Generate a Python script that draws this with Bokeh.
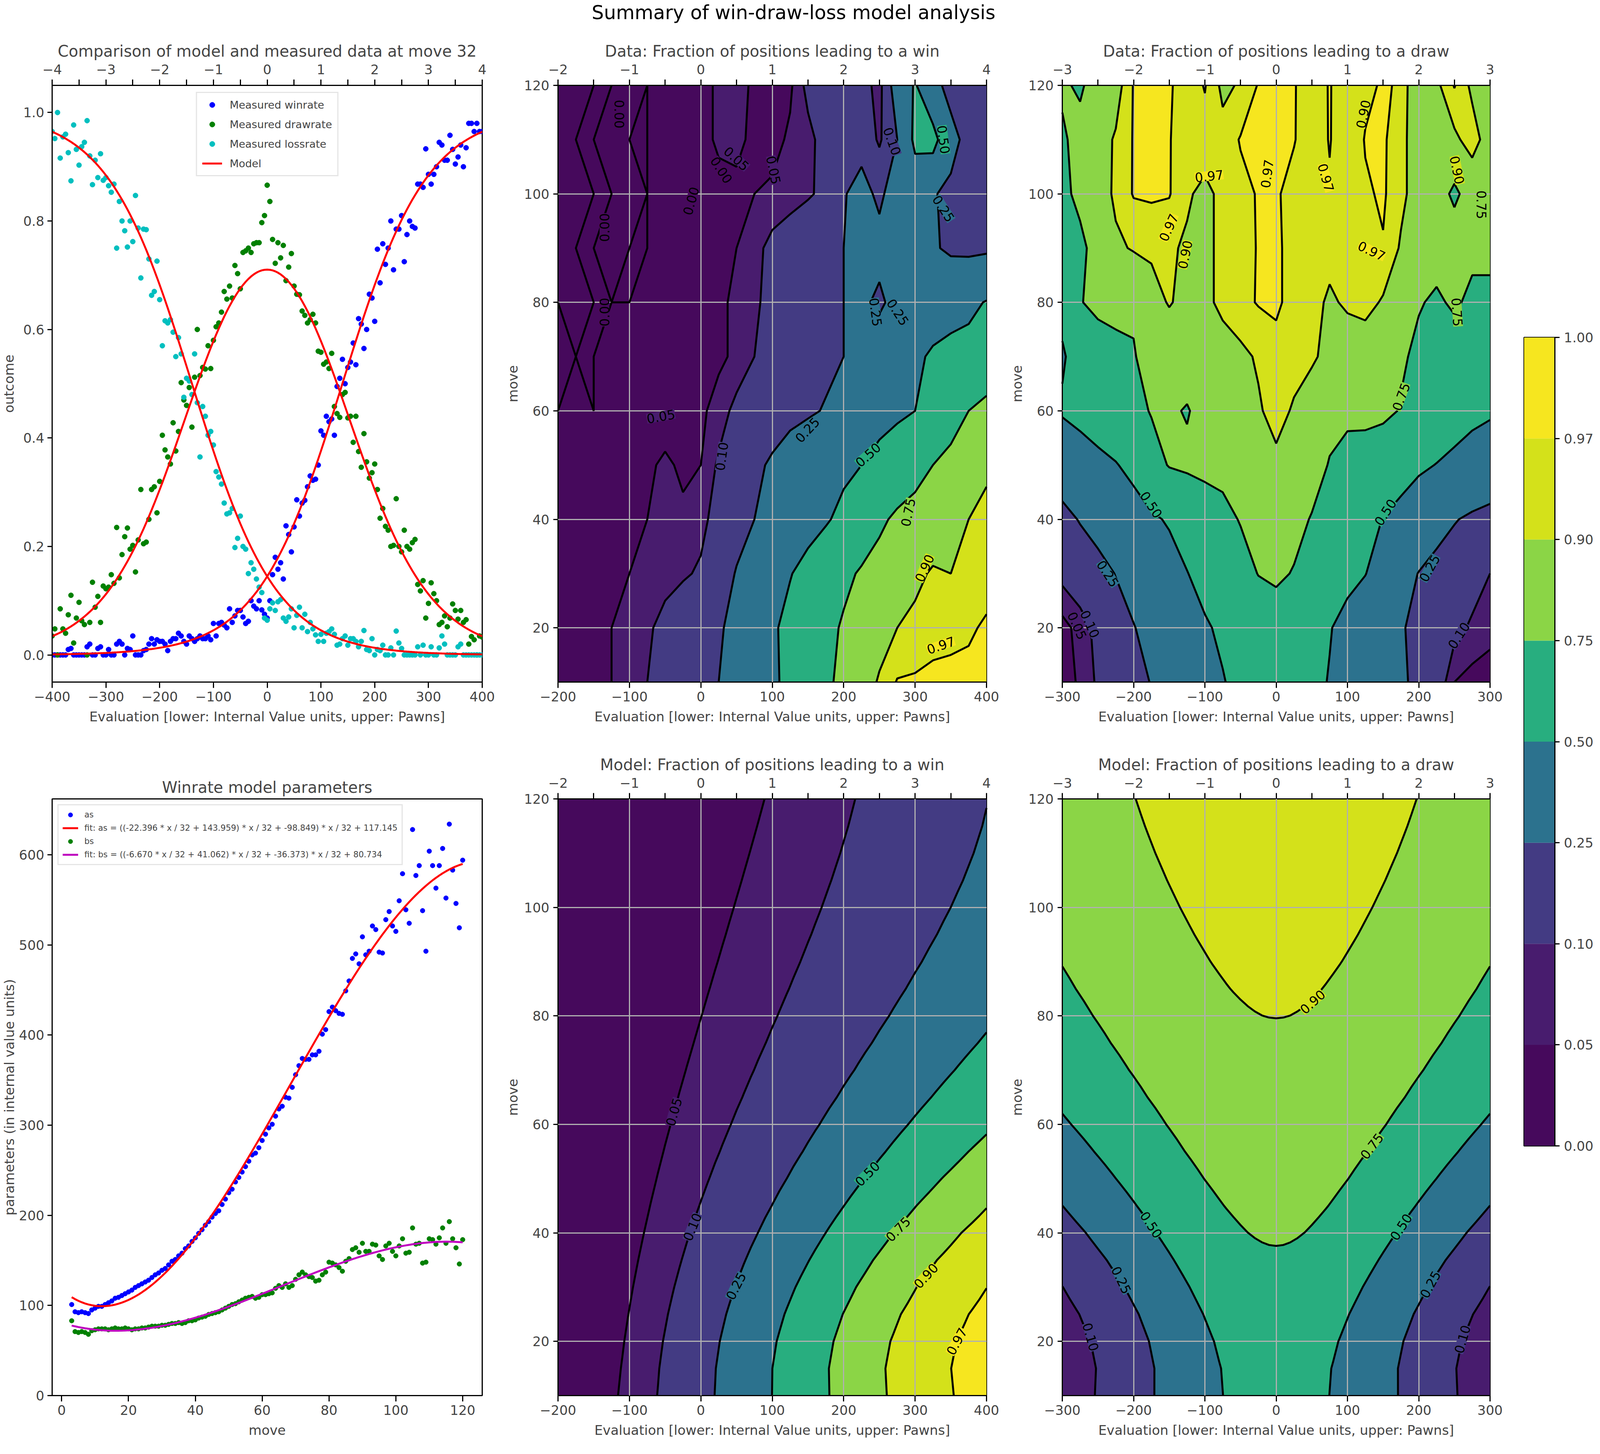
import math
import numpy as np
from bokeh.plotting import figure
from bokeh.layouts import row, column
from bokeh.models import (Range1d, LinearAxis, FixedTicker, Legend, LegendItem,
                          ColumnDataSource, PrintfTickFormatter)
from bokeh.palettes import Viridis256
from bokeh.core.properties import value, field
from bokeh.embed import file_html
from bokeh.resources import INLINE

FONT = "DejaVu Sans"
KX = 0.775   # horizontal css px per reference pixel (the browser view is narrower than the reference)
KF = 0.82    # font scale


def hx(v):
    return int(round(v * KX))


def fs(v):
    return "%dpx" % int(round(v * KF))


# ---------------- data ----------------
# measured outcome fractions at move 32, evaluation -400..400 step 5
EVAL_32 = list(range(-400, 401, 5))
MODEL_MOVE = 32
WIN_32 = [
    0, 0, 0, 0, 0, 0, 0.01, 0.012, 0, 0,
    0, 0, 0, 0.015, 0.02, 0, 0, 0.012, 0.015, 0,
    0, 0.01, 0, 0, 0.02, 0.025, 0.02, 0, 0.012, 0.01,
    0.035, 0, 0, 0, 0.008, 0.01, 0.02, 0.03, 0.02, 0.028,
    0.025, 0.025, 0.02, 0.008, 0.025, 0.03, 0.03, 0.04, 0.035, 0.025,
    0.02, 0.035, 0.03, 0.025, 0.03, 0.035, 0.03, 0.03, 0.035, 0.028,
    0.058, 0.035, 0.058, 0.06, 0.055, 0.05, 0.085, 0.06, 0.072, 0.082,
    0.082, 0.07, 0.058, 0.062, 0.1, 0.09, 0.085, 0.1, 0.083, 0.075,
    0.068, 0.1, 0.148, 0.18, 0.158, 0.17, 0.14, 0.238, 0.222, 0.19,
    0.236, 0.286, 0.256, 0.28, 0.285, 0.31, 0.33, 0.322, 0.324, 0.35,
    0.413, 0.405, 0.44, 0.43, 0.435, 0.405, 0.495, 0.51, 0.545, 0.5,
    0.53, 0.54, 0.575, 0.535, 0.62, 0.61, 0.565, 0.6, 0.665, 0.658,
    0.615, 0.748, 0.686, 0.758, 0.72, 0.75, 0.8, 0.71, 0.785, 0.785,
    0.81, 0.725, 0.775, 0.8, 0.79, 0.787, 0.868, 0.868, 0.862, 0.933,
    0.886, 0.868, 0.886, 0.9, 0.945, 0.94, 0.912, 0.912, 0.958, 0.932,
    0.905, 0.918, 0.94, 0.9, 0.935, 0.98, 0.98, 0.965, 0.98, 0.965,
    0.965,
]
DRAW_32 = [
    0.035, 0.048, 0.0, 0.085, 0.048, 0.04, 0.074, 0.11, 0.022, 0.068,
    0.097, 0.063, 0.056, 0.0, 0.06, 0.134, 0.088, 0.108, 0.06, 0.127,
    0.122, 0.125, 0.148, 0.132, 0.235, 0.142, 0.185, 0.218, 0.234, 0.195,
    0.202, 0.153, 0.212, 0.305, 0.205, 0.208, 0.25, 0.305, 0.31, 0.262,
    0.32, 0.405, 0.378, 0.365, 0.352, 0.428, 0.376, 0.412, 0.502, 0.47,
    0.46, 0.493, 0.42, 0.512, 0.6, 0.515, 0.53, 0.527, 0.57, 0.528,
    0.58, 0.605, 0.612, 0.632, 0.67, 0.656, 0.68, 0.658, 0.718, 0.703,
    0.675, 0.742, 0.745, 0.75, 0.742, 0.758, 0.76, 0.76, 0.797, 0.81,
    0.866, 0.836, 0.766, 0.722, 0.76, 0.732, 0.755, 0.69, 0.715, 0.74,
    0.68, 0.665, 0.664, 0.634, 0.626, 0.612, 0.618, 0.628, 0.612, 0.56,
    0.558, 0.536, 0.54, 0.528, 0.556, 0.458, 0.445, 0.438, 0.48, 0.484,
    0.437, 0.44, 0.392, 0.44, 0.375, 0.346, 0.408, 0.356, 0.326, 0.336,
    0.352, 0.305, 0.252, 0.27, 0.237, 0.23, 0.2, 0.202, 0.288, 0.2,
    0.19, 0.23, 0.2, 0.195, 0.207, 0.213, 0.13, 0.118, 0.137, 0.068,
    0.095, 0.133, 0.113, 0.1, 0.056, 0.06, 0.072, 0.052, 0.068, 0.094,
    0.082, 0.066, 0.082, 0.06, 0.065, 0.02, 0.034, 0.028, 0.0, 0.035,
    0.033,
]
LOSS_32 = [
    0.965, 0.952, 1.0, 0.916, 0.955, 0.96, 0.926, 0.874, 0.977, 0.932,
    0.903, 0.937, 0.945, 0.985, 0.92, 0.867, 0.912, 0.88, 0.924, 0.875,
    0.88, 0.865, 0.853, 0.868, 0.75, 0.836, 0.8, 0.782, 0.752, 0.8,
    0.762, 0.847, 0.787, 0.695, 0.785, 0.784, 0.73, 0.663, 0.67, 0.726,
    0.655, 0.57, 0.616, 0.612, 0.618, 0.595, 0.55, 0.585, 0.555, 0.475,
    0.51, 0.505, 0.48, 0.555, 0.465, 0.365, 0.458, 0.44, 0.405, 0.412,
    0.387, 0.338, 0.328, 0.315, 0.28, 0.26, 0.262, 0.27, 0.198, 0.215,
    0.256, 0.2, 0.195, 0.15, 0.17, 0.158, 0.14, 0.125, 0.115, 0.068,
    0.064, 0.085, 0.096, 0.082, 0.098, 0.102, 0.068, 0.062, 0.07, 0.085,
    0.05, 0.073, 0.088, 0.05, 0.075, 0.043, 0.06, 0.048, 0.037, 0.025,
    0.038, 0.025, 0.04, 0.043, 0.048, 0.038, 0.018, 0.02, 0.03, 0.035,
    0.018, 0.03, 0.03, 0.025, 0.015, 0.025, 0.045, 0.01, 0.008, 0.03,
    0.0, 0.01, 0.008, 0.018, 0.0, 0.0, 0.013, 0.0, 0.044, 0.022,
    0.012, 0.0, 0.0, 0.0, 0.0, 0.0, 0.015, 0.0, 0.018, 0.0,
    0.0, 0.015, 0.0, 0.0, 0.013, 0.035, 0.02, 0.0, 0.0, 0.0,
    0.0, 0.015, 0.02, 0.0, 0.0, 0.0, 0.0, 0.0, 0.0, 0.0,
    0.0,
]

# fitted model parameters per move
MOVES = list(range(3, 121))
AS_MEASURED = [
    101, 93, 92, 93, 92, 91, 95, 97, 99, 99, 101, 103, 105, 108, 109, 111, 113, 115,
    117, 120, 122, 124, 126, 128, 131, 134, 136, 139, 141, 145, 149, 151, 155, 158,
    163, 166, 171, 175, 180, 184, 189, 193, 198, 202, 205, 212, 218, 225, 229, 237,
    242, 248, 254, 260, 267, 269, 275, 283, 290, 297, 301, 310, 318, 321, 331, 330,
    342, 356, 366, 374, 373, 373, 378, 378, 382, 401, 406, 426, 431, 427, 424, 423,
    449, 460, 485, 490, 479, 509, 489, 493, 521, 517, 492, 491, 528, 537, 521, 515,
    549, 579, 539, 524, 628, 577, 588, 538, 493, 604, 588, 563, 588, 607, 552, 634,
    583, 546, 519, 594,
]
BS_MEASURED = [
    83, 71, 70, 71, 70, 68, 72, 73, 74, 74, 74, 73, 74, 75, 74, 74, 75, 74,
    73, 74, 74, 75, 75, 76, 77, 77, 77, 78, 78, 79, 80, 80, 81, 80,
    81, 83, 83, 84, 86, 87, 88, 90, 91, 92, 93, 95, 97, 99, 101, 102,
    104, 106, 108, 109, 110, 108, 109, 112, 112, 113, 114, 119, 122, 120, 124, 120,
    122, 129, 134, 137, 134, 132, 131, 127, 128, 134, 137, 148, 147, 145, 142, 138,
    149, 152, 162, 164, 159, 169, 160, 160, 168, 167, 155, 151, 166, 169, 160, 155,
    166, 174, 158, 159, 186, 168, 169, 147, 148, 174, 173, 168, 175, 186, 169, 193,
    174, 164, 146, 173,
]
AS_COEFFS = [-22.396, 143.959, -98.849, 117.145]
BS_COEFFS = [-6.670, 41.062, -36.373, 80.734]

LEVELS = [0.0, 0.05, 0.10, 0.25, 0.50, 0.75, 0.90, 0.97, 1.00]

# measured fractions on an evaluation x move grid (rows: moves)
GRID_MOVES = list(range(10, 121, 10))
WIN_EVAL = list(range(-200, 401, 25))
WIN_DATA = [
    [0.01, 0.02, 0.03, 0.05, 0.07, 0.10, 0.14, 0.18, 0.21, 0.25, 0.32, 0.39, 0.46, 0.56, 0.64, 0.72, 0.79, 0.85, 0.91, 0.975, 0.98, 0.99, 0.99, 0.99, 0.99],
    [0.01, 0.02, 0.03, 0.05, 0.07, 0.09, 0.12, 0.16, 0.20, 0.23, 0.30, 0.38, 0.47, 0.56, 0.63, 0.70, 0.77, 0.82, 0.86, 0.90, 0.92, 0.94, 0.95, 0.96, 0.98],
    [0.01, 0.02, 0.03, 0.04, 0.05, 0.07, 0.08, 0.09, 0.11, 0.17, 0.26, 0.33, 0.41, 0.49, 0.57, 0.64, 0.71, 0.77, 0.81, 0.85, 0.88, 0.91, 0.90, 0.92, 0.94],
    [0.01, 0.01, 0.02, 0.03, 0.04, 0.05, 0.06, 0.06, 0.08, 0.13, 0.19, 0.25, 0.30, 0.36, 0.42, 0.48, 0.55, 0.63, 0.72, 0.78, 0.81, 0.84, 0.87, 0.90, 0.93],
    [0.01, 0.01, 0.02, 0.02, 0.03, 0.04, 0.06, 0.04, 0.05, 0.11, 0.17, 0.22, 0.27, 0.32, 0.37, 0.42, 0.46, 0.50, 0.57, 0.63, 0.69, 0.75, 0.80, 0.84, 0.88],
    [0.00, 0.01, 0.00, 0.01, 0.01, 0.02, 0.02, 0.03, 0.04, 0.07, 0.12, 0.15, 0.18, 0.21, 0.23, 0.26, 0.32, 0.37, 0.42, 0.46, 0.50, 0.58, 0.67, 0.75, 0.80],
    [0.00, 0.00, 0.00, 0.01, 0.01, 0.01, 0.02, 0.02, 0.03, 0.04, 0.06, 0.10, 0.14, 0.18, 0.20, 0.22, 0.25, 0.31, 0.36, 0.41, 0.46, 0.53, 0.56, 0.56, 0.62],
    [0.00, 0.01, 0.00, 0.00, 0.00, 0.01, 0.01, 0.02, 0.03, 0.04, 0.06, 0.09, 0.12, 0.15, 0.18, 0.22, 0.25, 0.28, 0.22, 0.31, 0.36, 0.38, 0.42, 0.46, 0.51],
    [0.01, 0.00, 0.00, 0.01, 0.00, 0.00, 0.01, 0.02, 0.03, 0.04, 0.05, 0.08, 0.12, 0.15, 0.18, 0.21, 0.25, 0.28, 0.30, 0.28, 0.30, 0.27, 0.22, 0.21, 0.22],
    [0.00, 0.01, 0.00, 0.00, 0.01, 0.00, 0.01, 0.01, 0.02, 0.03, 0.04, 0.05, 0.06, 0.07, 0.09, 0.12, 0.24, 0.30, 0.22, 0.33, 0.36, 0.26, 0.22, 0.20, 0.23],
    [0.01, 0.00, 0.00, 0.01, 0.00, 0.00, 0.01, 0.02, 0.03, 0.06, 0.06, 0.04, 0.03, 0.06, 0.08, 0.13, 0.18, 0.20, 0.08, 0.25, 0.55, 0.58, 0.30, 0.20, 0.22],
    [0.00, 0.01, 0.00, 0.00, 0.01, 0.00, 0.01, 0.01, 0.03, 0.06, 0.07, 0.04, 0.03, 0.04, 0.12, 0.18, 0.20, 0.15, 0.06, 0.35, 0.52, 0.30, 0.20, 0.18, 0.20],
]
DRAW_EVAL = list(range(-300, 301, 25))
DRAW_DATA = [
    [0.02, 0.06, 0.11, 0.16, 0.21, 0.255, 0.31, 0.38, 0.44, 0.49, 0.55, 0.60, 0.64, 0.60, 0.55, 0.49, 0.42, 0.36, 0.31, 0.27, 0.22, 0.15, 0.05, 0.03, 0.02],
    [0.03, 0.07, 0.12, 0.18, 0.245, 0.29, 0.35, 0.42, 0.48, 0.53, 0.58, 0.63, 0.66, 0.64, 0.59, 0.51, 0.44, 0.37, 0.31, 0.26, 0.22, 0.17, 0.12, 0.09, 0.07],
    [0.12, 0.15, 0.19, 0.255, 0.30, 0.36, 0.42, 0.495, 0.56, 0.62, 0.68, 0.755, 0.78, 0.74, 0.68, 0.61, 0.55, 0.505, 0.41, 0.32, 0.245, 0.20, 0.16, 0.13, 0.10],
    [0.20, 0.26, 0.32, 0.37, 0.42, 0.47, 0.52, 0.58, 0.64, 0.70, 0.76, 0.80, 0.84, 0.80, 0.74, 0.68, 0.62, 0.56, 0.495, 0.44, 0.38, 0.31, 0.26, 0.22, 0.19],
    [0.35, 0.40, 0.45, 0.49, 0.55, 0.68, 0.76, 0.78, 0.80, 0.80, 0.82, 0.86, 0.88, 0.86, 0.82, 0.74, 0.70, 0.66, 0.62, 0.58, 0.53, 0.495, 0.46, 0.43, 0.40],
    [0.52, 0.56, 0.60, 0.64, 0.70, 0.76, 0.77, 0.74, 0.80, 0.84, 0.87, 0.89, 0.93, 0.89, 0.86, 0.80, 0.78, 0.80, 0.79, 0.74, 0.68, 0.63, 0.58, 0.54, 0.52],
    [0.48, 0.58, 0.64, 0.70, 0.745, 0.78, 0.80, 0.82, 0.84, 0.86, 0.88, 0.91, 0.95, 0.93, 0.91, 0.88, 0.86, 0.84, 0.81, 0.77, 0.72, 0.70, 0.68, 0.70, 0.72],
    [0.55, 0.74, 0.80, 0.80, 0.76, 0.85, 0.91, 0.86, 0.88, 0.92, 0.95, 0.975, 0.98, 0.95, 0.92, 0.89, 0.91, 0.93, 0.89, 0.85, 0.76, 0.73, 0.77, 0.72, 0.70],
    [0.70, 0.72, 0.80, 0.88, 0.91, 0.92, 0.91, 0.89, 0.88, 0.92, 0.94, 0.975, 0.98, 0.95, 0.93, 0.92, 0.91, 0.93, 0.965, 0.89, 0.82, 0.80, 0.84, 0.78, 0.80],
    [0.72, 0.78, 0.84, 0.92, 0.975, 0.98, 0.975, 0.91, 0.88, 0.92, 0.95, 0.975, 0.98, 0.94, 0.93, 0.96, 0.91, 0.96, 0.98, 0.92, 0.86, 0.82, 0.72, 0.82, 0.80],
    [0.72, 0.82, 0.86, 0.91, 0.975, 0.98, 0.975, 0.92, 0.94, 0.93, 0.975, 0.98, 0.975, 0.975, 0.92, 0.975, 0.91, 0.975, 0.98, 0.93, 0.84, 0.86, 0.88, 0.94, 0.85],
    [0.78, 0.72, 0.85, 0.86, 0.975, 0.975, 0.98, 0.93, 0.975, 0.88, 0.91, 0.975, 0.98, 0.975, 0.93, 0.975, 0.92, 0.95, 0.98, 0.96, 0.80, 0.88, 0.975, 0.88, 0.88],
]

# grid on which the fitted model is drawn
MODEL_MOVES = list(range(10, 121, 5))
MODEL_WIN_EVAL = list(range(-200, 401, 10))
MODEL_DRAW_EVAL = list(range(-300, 301, 10))

# inline contour labels: (evaluation, move, text, angle in degrees as seen in the reference)
WIN_DATA_LABELS = [
    (-114, 114.7, "0.00", -90), (-135, 93.8, "0.00", 90), (-135, 78.2, "0.00", 90),
    (-14, 98.7, "0.00", 70), (29, 104.4, "0.00", -50), (50, 106.5, "0.05", -35),
    (102, 104.4, "0.05", -75), (268, 109.7, "0.10", -65), (340, 110, "0.50", -80),
    (340, 97.3, "0.25", -50), (245, 78.2, "0.25", -80), (276, 78.2, "0.25", -50),
    (-56, 59, "0.05", 8), (29, 51.6, "0.10", 80), (149, 56.5, "0.25", 40),
    (234, 51.9, "0.50", 35), (290, 41.3, "0.75", 75), (313, 31, "0.90", 60),
    (336, 16.8, "0.97", 15),
]
DRAW_DATA_LABELS = [
    (-94, 103.3, "0.97", 5), (-13, 103.7, "0.97", 80), (70, 103, "0.97", -70),
    (122, 114.7, "0.90", 75), (254, 104.4, "0.90", -75), (288, 98, "0.75", -90),
    (-151, 93.8, "0.97", 60), (-128, 88.8, "0.90", 75), (134, 89.5, "0.97", -20),
    (254, 78.2, "0.75", -85), (175, 62.6, "0.75", 65), (-175, 42.7, "0.50", -50),
    (153, 41.3, "0.50", 50), (-236, 30, "0.25", -50), (215, 31, "0.25", 55),
    (-261, 20.7, "0.10", -60), (-279, 20.4, "0.05", -60), (256, 18.6, "0.10", 50),
]
WIN_MODEL_LABELS = [
    (-38, 62.3, "0.05", 70), (-12, 41.1, "0.10", 62), (49, 30.2, "0.25", 57),
    (233, 50.9, "0.50", 38), (276, 40.7, "0.75", 38), (315, 32.1, "0.90", 40),
    (358, 20, "0.97", 55),
]
DRAW_MODEL_LABELS = [
    (51, 82.6, "0.90", 35), (134, 56, "0.75", 45), (-175, 41.5, "0.50", -50),
    (175, 41.1, "0.50", 50), (-217, 31.3, "0.25", -58), (216, 30.5, "0.25", 55),
    (-260, 20.8, "0.10", -70), (261, 20.4, "0.10", 70),
]


# ---------------- model ----------------
def poly(c, move):
    m = np.asarray(move, dtype=float) / 32
    return ((c[0] * m + c[1]) * m + c[2]) * m + c[3]


def model_win(x, move):
    a = poly(AS_COEFFS, move)
    b = poly(BS_COEFFS, move)
    return 1.0 / (1.0 + np.exp((a - np.asarray(x, dtype=float)) / b))


# colours of the filled bands (viridis at band mid points)
BAND_COLORS = [Viridis256[int(0.5 * (lo + hi) * 256)] for lo, hi in zip(LEVELS[:-1], LEVELS[1:])]
FILL_LEVELS = [LEVELS[0] - 0.001] + LEVELS[1:]   # keep exact zeros inside the first band

# ---------------- layout sizes (css px) ----------------
HEAD_H = 80
FH = 1527
TOP_T, TOP_B = 138, 136
BOT_T, BOT_B = 163, 128
FW_A, FW_B, FW_C = 1101, 1097, 1095
L_A, R_A = 127, 55
L_B, R_B = 133, 55
L_C, R_C = 133, 47
L_CB, FW_CB, R_CB = 40, 79, 100
TOTAL_W = L_A + FW_A + R_A + L_B + FW_B + R_B + L_C + FW_C + R_C + L_CB + FW_CB + R_CB


def minus(v):
    return str(v).replace("-", "\u2212")


def style_axis(ax, ticks, minor=None, overrides=None, tick=15, standoff=10, label_standoff=10):
    ax.ticker = FixedTicker(ticks=ticks, minor_ticks=minor or [])
    ax.axis_line_color = "black"
    ax.axis_line_width = 3
    ax.major_tick_in = 0
    ax.major_tick_out = tick
    ax.major_tick_line_width = 3
    ax.minor_tick_in = 0
    ax.minor_tick_out = tick
    ax.minor_tick_line_width = 3
    ax.major_label_text_font = FONT
    ax.major_label_text_font_size = fs(42)
    ax.major_label_standoff = standoff
    ax.axis_label_text_font = FONT
    ax.axis_label_text_font_size = fs(42)
    ax.axis_label_text_font_style = "normal"
    ax.axis_label_standoff = label_standoff
    if overrides:
        ax.major_label_overrides = overrides


def panel(title, xr, yr, fw, left, right, top, bottom, title_standoff):
    p = figure(frame_width=fw, frame_height=FH, x_range=xr, y_range=yr,
               min_border_left=left, min_border_right=right,
               min_border_top=top, min_border_bottom=bottom,
               output_backend="svg", toolbar_location=None, title=title)
    p.title.text_font = FONT
    p.title.text_font_size = "40px"
    p.title.text_font_style = "normal"
    p.title.align = "center"
    p.title.standoff = title_standoff
    p.outline_line_color = "black"
    p.outline_line_width = 3
    p.grid.visible = False
    return p


def add_pawn_axis(p, lo, hi):
    p.extra_x_ranges = {"pawns": Range1d(lo, hi)}
    ax = LinearAxis(x_range_name="pawns")
    p.add_layout(ax, "above")
    style_axis(ax, list(range(lo, hi + 1)), [v + 0.5 for v in range(lo, hi)], standoff=14)
    return ax


def screen_angle(a):
    # angle read in the reference, adjusted for the narrower horizontal scale
    r = math.radians(a)
    return math.degrees(math.atan2(math.sin(r), math.cos(r) * KX))


EVAL_LABEL = "Evaluation [lower: Internal Value units, upper: Pawns]"

# ---------------- panel 1: comparison at move 32 ----------------
p1 = panel("Comparison of model and measured data at move 32", Range1d(-400, 400), Range1d(-0.05, 1.05),
           FW_A, L_A, R_A, TOP_T, TOP_B, 16)
add_pawn_axis(p1, -4, 4)
ticks = list(range(-400, 401, 100))
style_axis(p1.below[0], ticks, overrides={t: minus(t) for t in ticks}, standoff=9, label_standoff=16)
p1.below[0].axis_label = EVAL_LABEL
style_axis(p1.left[0], [0, 0.2, 0.4, 0.6, 0.8, 1.0], tick=hx(15), standoff=8, label_standoff=13)
p1.left[0].formatter = PrintfTickFormatter(format="%.1f")
p1.left[0].axis_label = "outcome"

rw = p1.scatter(EVAL_32, WIN_32, size=13, color="#0000ff")
rd = p1.scatter(EVAL_32, DRAW_32, size=13, color="#008000")
rl = p1.scatter(EVAL_32, LOSS_32, size=13, color="#00bfbf")
mw = model_win(EVAL_32, MODEL_MOVE)
ml = model_win([-e for e in EVAL_32], MODEL_MOVE)
rm = p1.line(EVAL_32, mw, line_color="#ff0000", line_width=5)
p1.line(EVAL_32, 1 - mw - ml, line_color="#ff0000", line_width=5)
p1.line(EVAL_32, ml, line_color="#ff0000", line_width=5)
leg1 = Legend(items=[LegendItem(label="Measured winrate", renderers=[rw]),
                     LegendItem(label="Measured drawrate", renderers=[rd]),
                     LegendItem(label="Measured lossrate", renderers=[rl]),
                     LegendItem(label="Model", renderers=[rm])],
              location="top_center", label_text_font=FONT, label_text_font_size=fs(33),
              glyph_width=hx(66), glyph_height=34, label_standoff=hx(26), spacing=16,
              padding=13, margin=17, border_line_color="#cccccc", border_line_width=3,
              background_fill_alpha=0.8)
p1.add_layout(leg1)

# ---------------- panel 4: model parameters ----------------
p4 = panel("Winrate model parameters", Range1d(-2.85, 125.85), Range1d(0, 662),
           FW_A, L_A, R_A, BOT_T, BOT_B, 13)
style_axis(p4.below[0], list(range(0, 121, 20)), standoff=9, label_standoff=16)
p4.below[0].axis_label = "move"
style_axis(p4.left[0], list(range(0, 601, 100)), tick=hx(15), standoff=8, label_standoff=2)
p4.left[0].axis_label = "parameters (in internal value units)"
ra = p4.scatter(MOVES, AS_MEASURED, size=12, color="#0000ff")
rfa = p4.line(MOVES, poly(AS_COEFFS, MOVES), line_color="#ff0000", line_width=5)
rb = p4.scatter(MOVES, BS_MEASURED, size=12, color="#008000")
rfb = p4.line(MOVES, poly(BS_COEFFS, MOVES), line_color="#bf00bf", line_width=5)


def fit_text(name, c):
    return "fit: %s = ((%.3f * x / 32 + %.3f) * x / 32 + %.3f) * x / 32 + %.3f" % (name, c[0], c[1], c[2], c[3])


leg4 = Legend(items=[LegendItem(label="as", renderers=[ra]),
                     LegendItem(label=fit_text("as", AS_COEFFS), renderers=[rfa]),
                     LegendItem(label="bs", renderers=[rb]),
                     LegendItem(label=fit_text("bs", BS_COEFFS), renderers=[rfb])],
              location="top_left", label_text_font=FONT, label_text_font_size=fs(26),
              glyph_width=hx(52), glyph_height=28, label_standoff=hx(20), spacing=6,
              padding=10, margin=14, border_line_color="#cccccc", border_line_width=3,
              background_fill_alpha=0.8)
p4.add_layout(leg4)


# ---------------- contour panels ----------------
def contour_panel(title, evals, moves, z, pawn_lo, pawn_hi, labels, fw, left, right, top, bottom):
    p = panel(title, Range1d(evals[0], evals[-1]), Range1d(moves[0], moves[-1]),
              fw, left, right, top, bottom, 16)
    add_pawn_axis(p, pawn_lo, pawn_hi)
    xt = list(range(evals[0], evals[-1] + 1, 100))
    style_axis(p.below[0], xt, overrides={t: minus(t) for t in xt}, standoff=9, label_standoff=16)
    p.below[0].axis_label = EVAL_LABEL
    style_axis(p.left[0], list(range(20, 121, 20)), tick=hx(15), standoff=10, label_standoff=6)
    p.left[0].axis_label = "move"

    z = np.asarray(z, dtype=float)
    p.contour(evals, moves, z, FILL_LEVELS, fill_color=BAND_COLORS, line_color=None)
    p.grid.visible = True
    p.grid.grid_line_color = "#b0b0b0"
    p.grid.grid_line_width = 3
    p.grid.level = "guide"
    lines = p.contour(evals, moves, z, LEVELS[:-1], line_color="black", line_width=5, fill_color=None)
    lines.level = "annotation"

    src = ColumnDataSource(dict(
        x=[l[0] for l in labels], y=[l[1] for l in labels], text=[l[2] for l in labels],
        angle=[screen_angle(l[3]) for l in labels],
        bg=[BAND_COLORS[min(LEVELS.index(float(l[2])), len(BAND_COLORS) - 1)] for l in labels]))
    t = p.text(x="x", y="y", text="text", angle="angle", angle_units="deg", source=src,
               text_align="center", text_baseline="middle", text_font=value(FONT),
               text_font_size=value(fs(40)), text_color="black",
               background_fill_color=field("bg"))
    t.level = "annotation"
    return p


ew, mw_grid = np.meshgrid(MODEL_WIN_EVAL, MODEL_MOVES)
WIN_MODEL = model_win(ew, mw_grid)
ed, md_grid = np.meshgrid(MODEL_DRAW_EVAL, MODEL_MOVES)
DRAW_MODEL = 1 - model_win(ed, md_grid) - model_win(-ed, md_grid)

p2 = contour_panel("Data: Fraction of positions leading to a win", WIN_EVAL, GRID_MOVES, WIN_DATA,
                   -2, 4, WIN_DATA_LABELS, FW_B, L_B, R_B, TOP_T, TOP_B)
p3 = contour_panel("Data: Fraction of positions leading to a draw", DRAW_EVAL, GRID_MOVES, DRAW_DATA,
                   -3, 3, DRAW_DATA_LABELS, FW_C, L_C, R_C, TOP_T, TOP_B)
p5 = contour_panel("Model: Fraction of positions leading to a win", MODEL_WIN_EVAL, MODEL_MOVES, WIN_MODEL,
                   -2, 4, WIN_MODEL_LABELS, FW_B, L_B, R_B, BOT_T, BOT_B)
p6 = contour_panel("Model: Fraction of positions leading to a draw", MODEL_DRAW_EVAL, MODEL_MOVES, DRAW_MODEL,
                   -3, 3, DRAW_MODEL_LABELS, FW_C, L_C, R_C, BOT_T, BOT_B)

# ---------------- colour bar ----------------
cb = figure(frame_width=FW_CB, frame_height=2069, x_range=Range1d(0, 1),
            y_range=Range1d(0, len(BAND_COLORS)), x_axis_location=None, y_axis_location="right",
            min_border_left=L_CB, min_border_right=R_CB, min_border_top=863 - HEAD_H,
            min_border_bottom=20, output_backend="svg", toolbar_location=None)
cb.grid.visible = False
cb.outline_line_color = "black"
cb.outline_line_width = 3
idx = list(range(len(BAND_COLORS)))
cb.quad(left=0, right=1, bottom=idx, top=[i + 1 for i in idx], fill_color=BAND_COLORS, line_color=None)
style_axis(cb.right[0], list(range(len(LEVELS))), tick=hx(15),
           overrides={i: "%.2f" % lv for i, lv in enumerate(LEVELS)}, standoff=11)

# ---------------- super title ----------------
head = figure(frame_width=TOTAL_W, frame_height=HEAD_H, x_range=Range1d(0, 1), y_range=Range1d(0, 1),
              x_axis_location=None, y_axis_location=None, min_border=0,
              output_backend="svg", toolbar_location=None)
head.grid.visible = False
head.outline_line_color = None
head.text(x=[0.5], y=[0.6], text=["Summary of win-draw-loss model analysis"], text_align="center",
          text_baseline="middle", text_font=value(FONT), text_font_size=value(fs(60)), text_color="black")

layout = column(head, row(column(p1, p4), column(p2, p5), column(p3, p6), cb))

open("out.html", "w").write(file_html(layout, INLINE))
